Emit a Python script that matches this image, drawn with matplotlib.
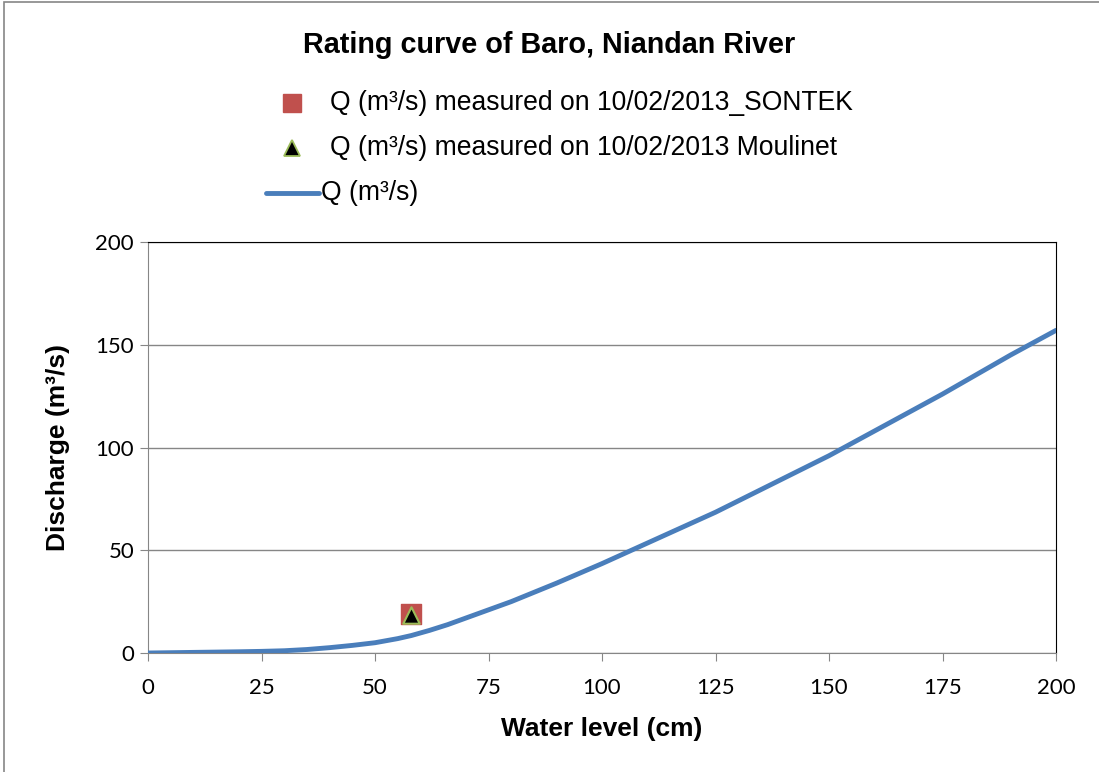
import matplotlib.pyplot as plt
from matplotlib.lines import Line2D
from matplotlib.patches import Rectangle

plt.rcParams['font.family'] = ['Liberation Sans', 'DejaVu Sans']

# rating curve
level_cm = [0, 10, 20, 25, 30, 35, 40, 45, 50, 55, 58, 62, 66, 70, 75, 80, 90,
            100, 110, 125, 140, 150, 160, 175, 190, 200]
discharge = [0, 0.3, 0.6, 0.8, 1.1, 1.7, 2.6, 3.7, 5.0, 7.0, 8.5, 11.0, 13.8,
             17.0, 21.0, 25.0, 34.0, 43.5, 53.5, 68.5, 85.0, 96.0, 108.0, 126.0, 145.0, 157.0]

# field measurements
sontek_level = [58]
sontek_q = [19]
moulinet_level = [58]
moulinet_q = [18.5]

legend_labels = ['Q (m³/s) measured on 10/02/2013_SONTEK',
                 'Q (m³/s) measured on 10/02/2013 Moulinet',
                 'Q (m³/s)']

blue = '#4a7ebb'
red = '#c0504d'
green = '#9bbb59'
W, H = 1099, 772

fig = plt.figure(figsize=(10.99, 7.72), dpi=100)
ax = fig.add_axes([148 / W, 1 - 653 / H, (1056 - 148) / W, (653 - 242) / H])

ax.plot(level_cm, discharge, color=blue, lw=3.5, solid_capstyle='round', zorder=3)
ax.scatter(sontek_level, sontek_q, marker='s', s=220, color=red, zorder=4)
ax.scatter(moulinet_level, moulinet_q, marker='^', s=140, color='black',
           edgecolors=green, linewidths=1.5, zorder=5)

ax.set_xlim(0, 200)
ax.set_ylim(0, 200)
ax.set_xticks([0, 25, 50, 75, 100, 125, 150, 175, 200])
ax.set_yticks([0, 50, 100, 150, 200])
ax.yaxis.grid(True, color='#868686', lw=1)
ax.set_axisbelow(True)
ax.tick_params(colors='#868686', labelcolor='black', length=6)
ax.tick_params(axis='x', pad=12)
ax.tick_params(axis='y', pad=4)
for lab in ax.get_xticklabels() + ax.get_yticklabels():
    lab.set_fontfamily(['Lato', 'DejaVu Sans'])
    lab.set_fontsize(16)
for s in ['left', 'bottom']:
    ax.spines[s].set_color('#868686')
for s in ['top', 'right']:
    ax.spines[s].set_color('black')

ax.set_xlabel('Water level (cm)', fontsize=19, fontweight='bold', labelpad=14)
ax.set_ylabel('Discharge (m³/s)', fontsize=19, fontweight='bold', labelpad=18)

fig.text(0.5, 1 - 45 / H, 'Rating curve of Baro, Niandan River', ha='center',
         va='center', fontsize=20.7, fontweight='bold')

# legend drawn by hand to follow the spreadsheet layout
rows = [103, 148, 193]
fig.add_artist(Line2D([292 / W], [1 - rows[0] / H], marker='s', ls='none',
                      color=red, markersize=13, transform=fig.transFigure))
fig.add_artist(Line2D([292 / W], [1 - rows[1] / H], marker='^', ls='none',
                      color='black', markeredgecolor=green, markersize=12,
                      markeredgewidth=1.3, transform=fig.transFigure))
fig.add_artist(Line2D([266 / W, 319 / W], [1 - rows[2] / H] * 2, color=blue, lw=3.5,
                      solid_capstyle='round', transform=fig.transFigure))
text_x = [330, 330, 321]
for lbl, y, x in zip(legend_labels, rows, text_x):
    fig.text(x / W, 1 - y / H, lbl, ha='left', va='center', fontsize=19.1)

fig.patches.append(Rectangle((4 / W, -0.01), 1.1, 1.01 - 2 / H, transform=fig.transFigure,
                             fill=False, edgecolor='#868686', lw=1.2))

fig.savefig('out.png', dpi=100)
